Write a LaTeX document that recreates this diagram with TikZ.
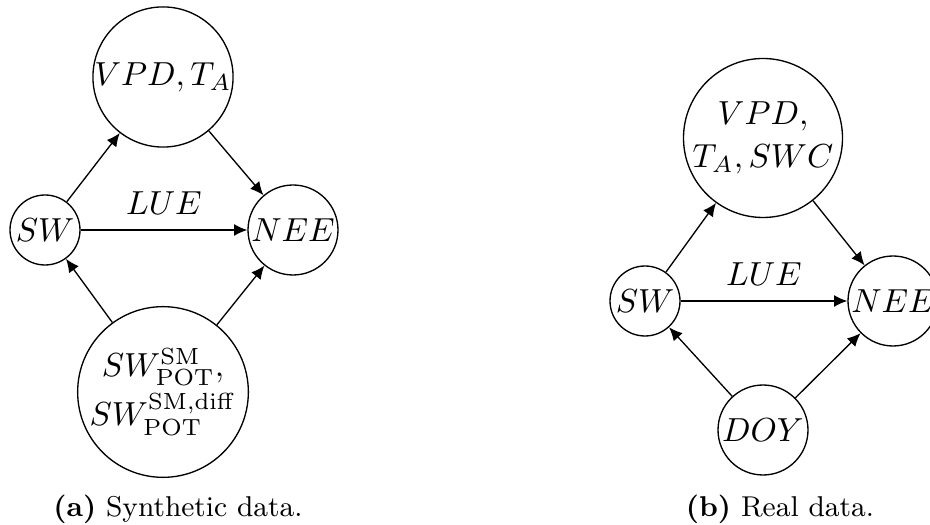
\documentclass[tikz,border=0pt]{standalone}
\usetikzlibrary{arrows.meta}
\begin{document}
\begin{tikzpicture}[x=0.3pt,y=-0.3pt,
  var/.style={draw, circle, inner sep=0pt, line width=0.4pt, align=center},
  edge/.style={-{Latex[length=4pt,width=3.6pt]}, line width=0.4pt},
  lbl/.style={midway, yshift=8.1pt, inner sep=0pt},
  captxt/.style={font=\fontsize{8.6}{10}\selectfont, anchor=base}]
\useasboundingbox (0,0) rectangle (930,525);
% (a) Synthetic data
\node[var, minimum size=42pt] (va) at (163,77) {$VPD, T_A$};
\node[var, minimum size=21pt] (swa) at (45,230) {$SW$};
\node[var, minimum size=27pt] (neea) at (293,230) {$NEE$};
\node[var, minimum size=48pt] (pota) at (163,392)
  {$SW^{\mathrm{SM}}_{\mathrm{POT}},$\\[1.5pt]$SW^{\mathrm{SM,diff}}_{\mathrm{POT}}$};
\draw[edge] (swa) -- (va);
\draw[edge] (va) -- (neea);
\draw[edge] (swa) -- node[lbl] {$LUE$} (neea);
\draw[edge] (pota) -- (swa);
\draw[edge] (pota) -- (neea);
\node[captxt] (capa) at (178,517) {\textbf{(a)} Synthetic data.};
% (b) Real data
\node[var, minimum size=47.7pt] (vb) at (763,138) {$VPD,$\\[1pt]$T_A, SWC$};
\node[var, minimum size=21pt] (swb) at (645,301) {$SW$};
\node[var, minimum size=27pt] (neeb) at (893,301) {$NEE$};
\node[var, minimum size=27pt] (doy) at (763,430) {$DOY$};
\draw[edge] (swb) -- (vb);
\draw[edge] (vb) -- (neeb);
\draw[edge] (swb) -- node[lbl] {$LUE$} (neeb);
\draw[edge] (doy) -- (swb);
\draw[edge] (doy) -- (neeb);
\node[captxt] (capb) at (780,517) {\textbf{(b)} Real data.};
\end{tikzpicture}
\end{document}
